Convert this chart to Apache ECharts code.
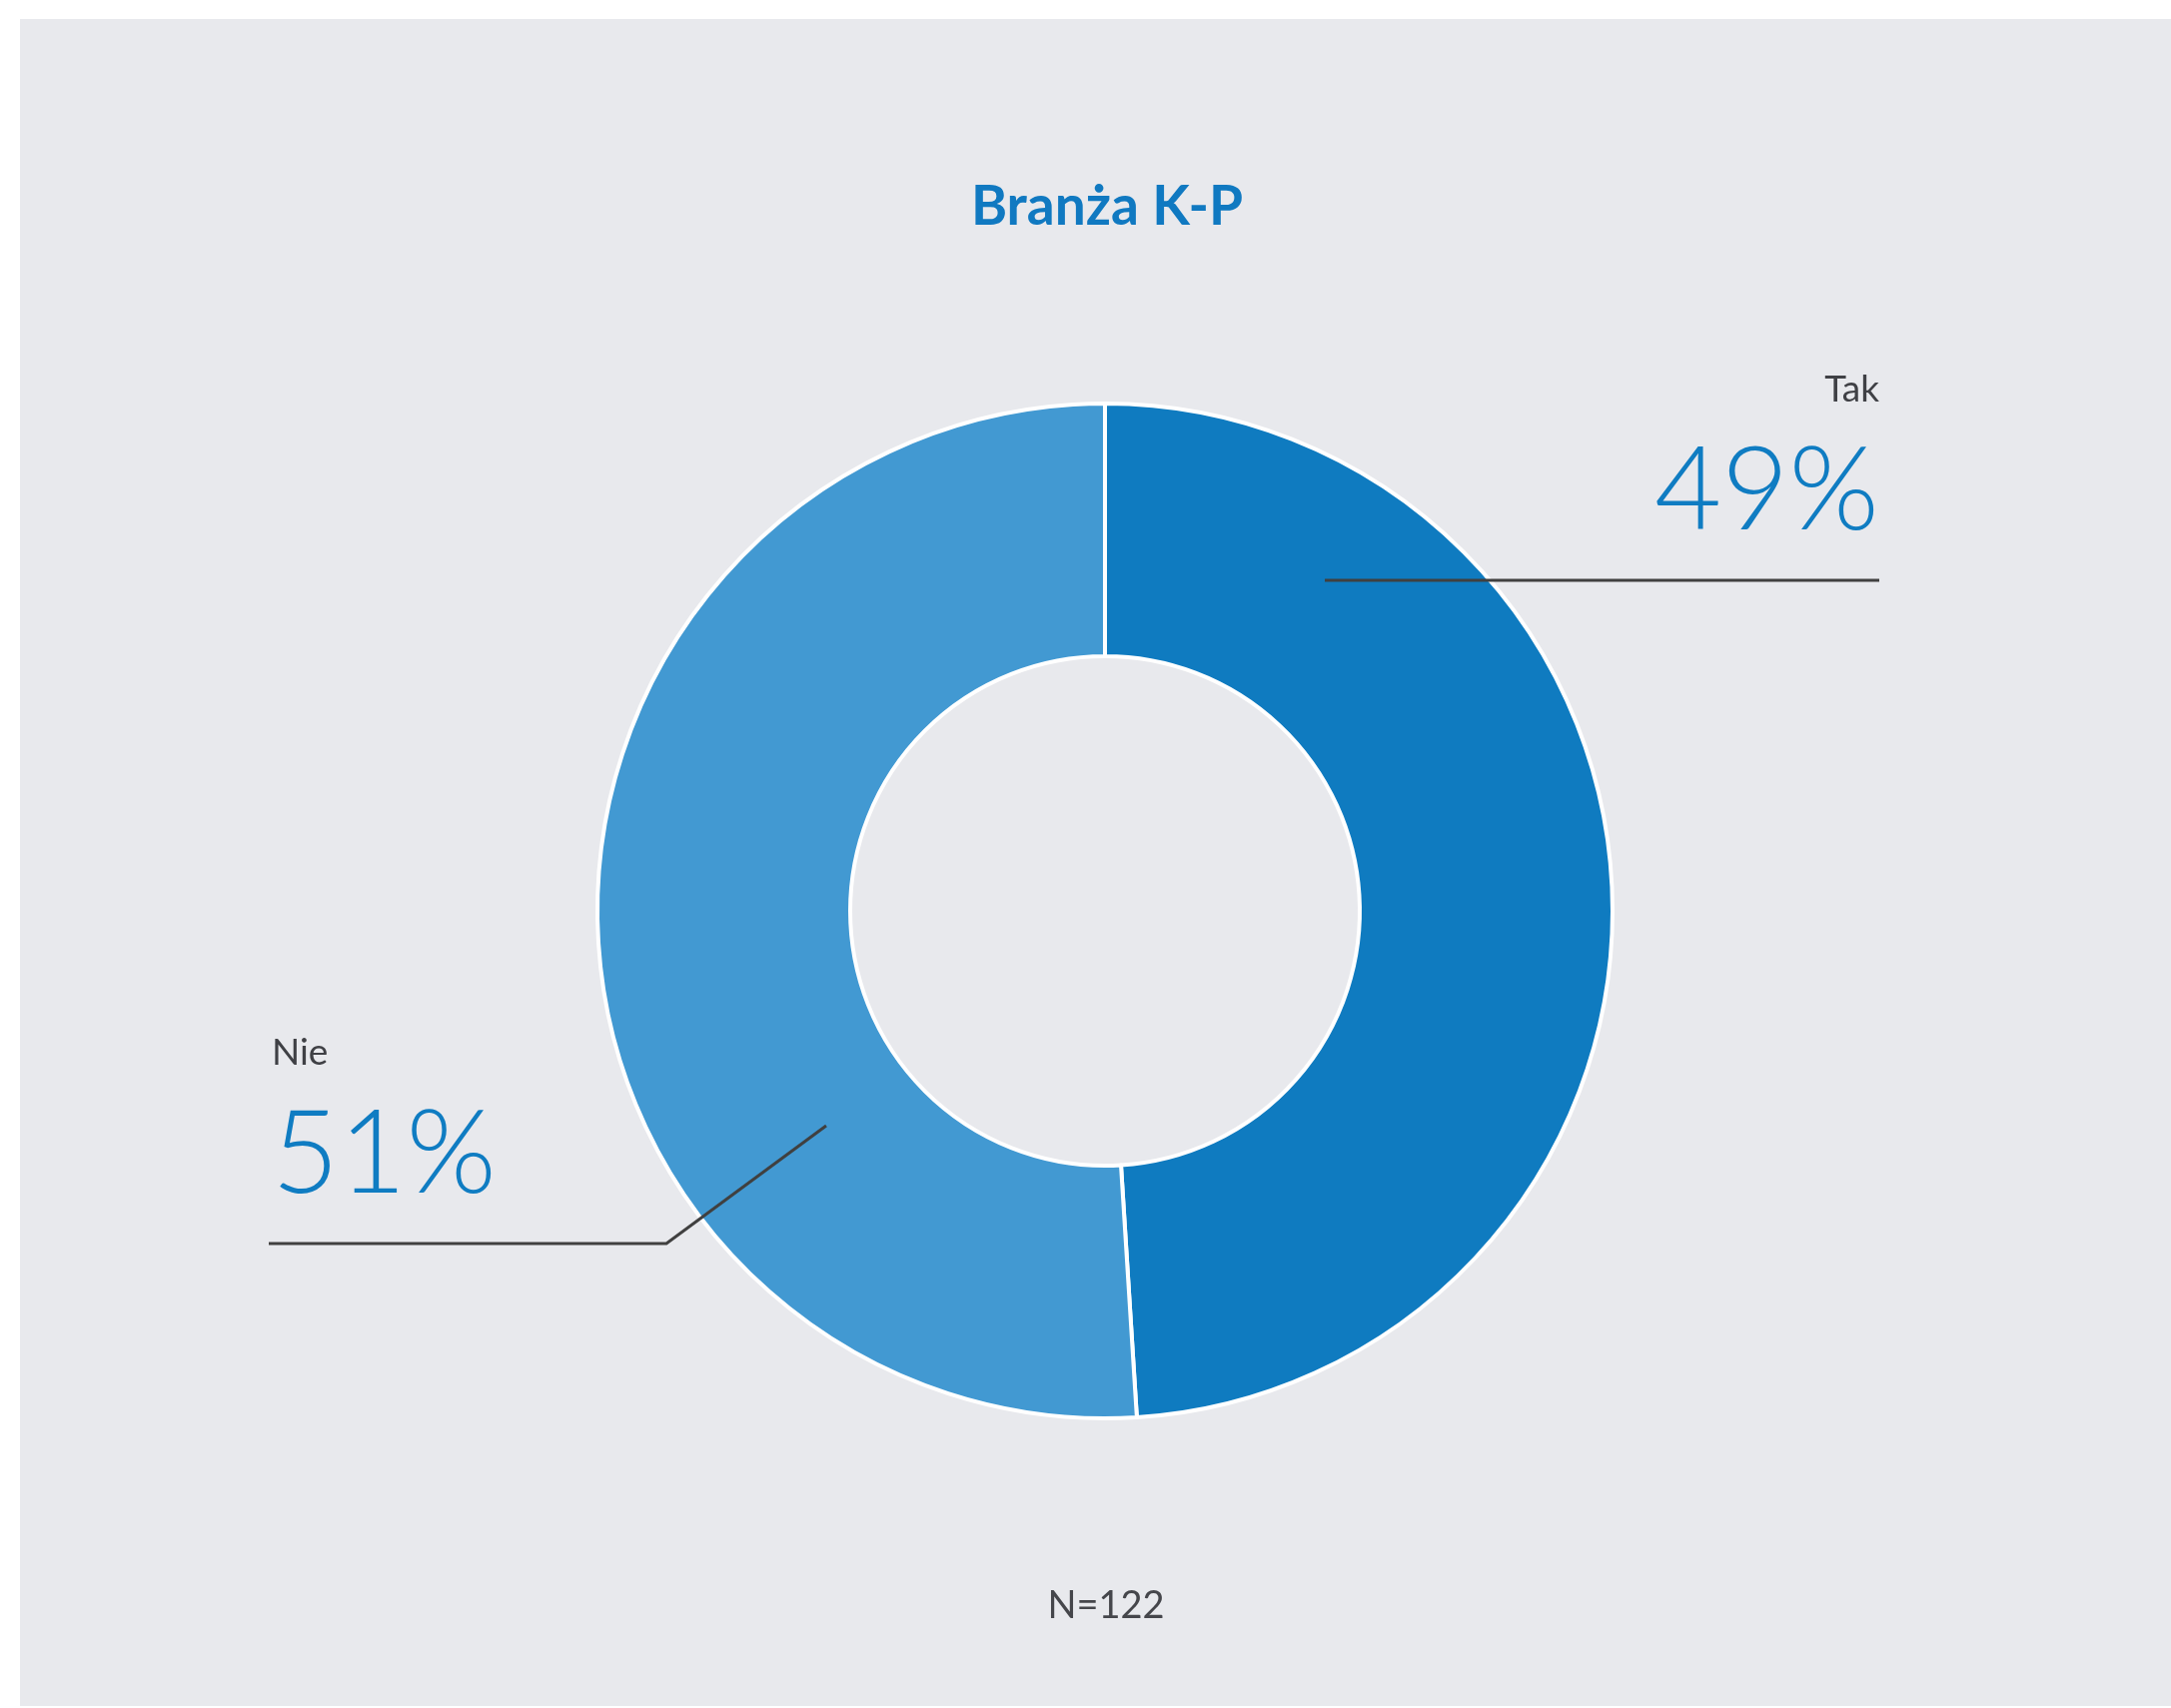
<!DOCTYPE html>
<html>
<head>
<meta charset="utf-8">
<script src="https://cdn.jsdelivr.net/npm/echarts@6/dist/echarts.min.js"></script>
<style>
  html, body { margin: 0; padding: 0; background: #ffffff; }
  #chart { position: absolute; left: 20px; top: 19px; width: 2153px; height: 1689px; }
</style>
</head>
<body>
<div id="chart"></div>
<script>
// data
const categories = ['Tak', 'Nie'];
const shares = [49, 51];
const sampleNote = 'N=122';
const chartTitle = 'Branża K-P';

const colors = ['#0f7bc0', '#4299d2'];
const FONT = 'Lato, "Open Sans", sans-serif';

const chart = echarts.init(document.getElementById('chart'));

// pie geometry in chart pixels
const cx = 1086, cy = 893;
const radius = [255, 508];

const pieData = categories.map((c, i) => ({ name: c, value: shares[i], itemStyle: { color: colors[i] } }));

const option = {
  backgroundColor: '#e8e9ed',
  animation: false,
  title: {
    text: chartTitle,
    left: 1083,
    textAlign: 'center',
    top: 156,
    textStyle: { color: '#1079c1', fontFamily: FONT, fontWeight: 'bold', fontSize: 55 }
  },
  graphic: [{
    type: 'text',
    x: 1087,
    y: 1570,
    style: { text: sampleNote, fill: '#45464b', font: '38px ' + FONT, align: 'center' }
  }],
  series: [
    {
      // the ring itself
      type: 'pie',
      z: 2,
      center: [cx, cy],
      radius: radius,
      startAngle: 90,
      clockwise: true,
      silent: true,
      itemStyle: { borderColor: '#ffffff', borderWidth: 4 },
      label: { show: false },
      labelLine: { show: false },
      data: pieData
    },
    {
      // same slices, invisible, only to carry labels and callout lines above the ring
      type: 'pie',
      z: 5,
      center: [cx, cy],
      radius: radius,
      startAngle: 90,
      clockwise: true,
      silent: true,
      itemStyle: { color: 'rgba(0,0,0,0)', borderWidth: 0 },
      data: categories.map((c, i) => ({ name: c, value: shares[i] })),
      label: {
        show: true,
        position: 'outside',
        formatter: '{n|{b}}\n{v|{c}%}',
        rich: {
          n: { fontFamily: FONT, fontSize: 37, lineHeight: 82, color: '#3f4045' },
          v: { fontFamily: FONT, fontSize: 116, fontWeight: 300, lineHeight: 124, color: '#0f7cc2' }
        }
      },
      labelLine: {
        show: true,
        minTurnAngle: 0,
        maxSurfaceAngle: 180,
        lineStyle: { color: '#404040', width: 3 }
      },
      labelLayout: function (p) {
        if (p.dataIndex === 0) {
          return {
            x: 1861, y: 330, align: 'right', verticalAlign: 'top',
            labelLinePoints: [[cx + 220, cy - 331], [cx + 400, cy - 331], [1861, cy - 331]]
          };
        }
        return {
          x: 252, y: 994, align: 'left', verticalAlign: 'top',
          labelLinePoints: [[cx - 279, cy + 215], [cx - 439, cy + 333], [249, cy + 333]]
        };
      }
    }
  ]
};

chart.setOption(option);
</script>
</body>
</html>
